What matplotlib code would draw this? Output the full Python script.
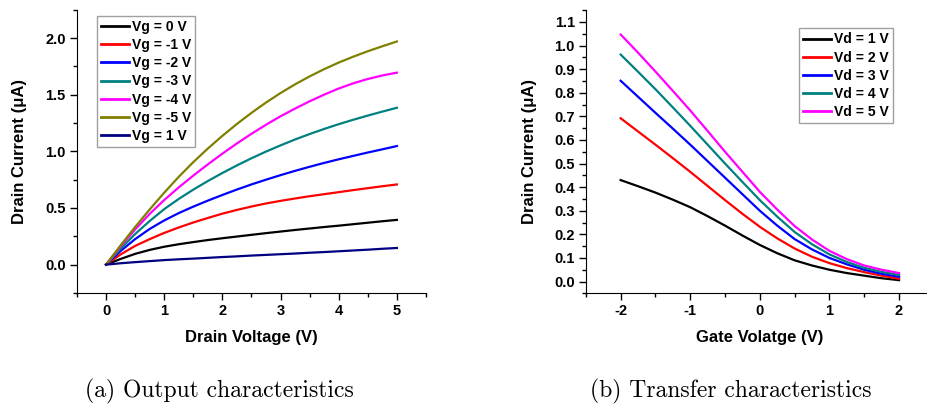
import matplotlib
matplotlib.use('Agg')
import matplotlib.pyplot as plt
from matplotlib.ticker import MultipleLocator

plt.rcParams['font.family'] = ['Liberation Sans', 'DejaVu Sans']
plt.rcParams['font.weight'] = 'bold'
plt.rcParams['axes.unicode_minus'] = False

# Output characteristics: drain current (uA) vs drain voltage for each gate voltage
vd = [0, 0.25, 0.5, 0.75, 1, 1.25, 1.5, 1.75, 2, 2.25, 2.5,
      2.75, 3, 3.25, 3.5, 3.75, 4, 4.25, 4.5, 4.75, 5]
id_vg0 = [0, 0.05, 0.095, 0.13, 0.158, 0.18, 0.199, 0.217, 0.233, 0.248, 0.263,
          0.278, 0.292, 0.306, 0.319, 0.332, 0.344, 0.357, 0.370, 0.383, 0.395]
id_vgm1 = [0, 0.09, 0.165, 0.225, 0.28, 0.328, 0.372, 0.412, 0.45, 0.483, 0.513,
           0.54, 0.563, 0.584, 0.604, 0.622, 0.64, 0.658, 0.675, 0.692, 0.708]
id_vgm2 = [0, 0.12, 0.225, 0.315, 0.39, 0.455, 0.512, 0.565, 0.615, 0.663, 0.708,
           0.75, 0.79, 0.828, 0.864, 0.898, 0.93, 0.96, 0.99, 1.018, 1.047]
id_vgm3 = [0, 0.14, 0.27, 0.385, 0.49, 0.58, 0.662, 0.738, 0.809, 0.876, 0.939,
           0.998, 1.053, 1.105, 1.153, 1.198, 1.240, 1.279, 1.316, 1.351, 1.385]
id_vgm4 = [0, 0.16, 0.31, 0.448, 0.57, 0.682, 0.786, 0.885, 0.98, 1.07, 1.155,
           1.235, 1.31, 1.378, 1.442, 1.501, 1.555, 1.601, 1.639, 1.670, 1.695]
id_vgm5 = [0, 0.170, 0.332, 0.487, 0.635, 0.775, 0.905, 1.025, 1.137, 1.242, 1.340,
           1.431, 1.515, 1.592, 1.662, 1.726, 1.784, 1.836, 1.884, 1.928, 1.970]
id_vg1 = [0, 0.012, 0.022, 0.031, 0.04, 0.047, 0.053, 0.06, 0.067, 0.073, 0.08,
          0.086, 0.092, 0.098, 0.105, 0.111, 0.118, 0.125, 0.132, 0.14, 0.147]

out_curves = [id_vg0, id_vgm1, id_vgm2, id_vgm3, id_vgm4, id_vgm5, id_vg1]
out_labels = ['Vg = 0 V', 'Vg = -1 V', 'Vg = -2 V', 'Vg = -3 V',
              'Vg = -4 V', 'Vg = -5 V', 'Vg = 1 V']
out_colors = ['black', '#FF0000', '#0000FF', '#008080', '#FF00FF', '#808000', '#000080']

# Transfer characteristics: drain current (uA) vs gate voltage for each drain voltage
vg = [-2, -1.75, -1.5, -1.25, -1, -0.75, -0.5, -0.25, 0,
      0.25, 0.5, 0.75, 1, 1.25, 1.5, 1.75, 2]
id_vd1 = [0.43, 0.404, 0.377, 0.347, 0.315, 0.277, 0.237, 0.195, 0.155,
          0.12, 0.09, 0.068, 0.05, 0.036, 0.025, 0.014, 0.006]
id_vd2 = [0.692, 0.636, 0.58, 0.523, 0.465, 0.405, 0.345, 0.287, 0.232,
          0.183, 0.14, 0.105, 0.078, 0.057, 0.04, 0.025, 0.012]
id_vd3 = [0.851, 0.783, 0.715, 0.648, 0.58, 0.51, 0.44, 0.37, 0.30,
          0.237, 0.18, 0.136, 0.10, 0.073, 0.05, 0.033, 0.02]
id_vd4 = [0.962, 0.889, 0.815, 0.738, 0.66, 0.58, 0.50, 0.422, 0.345,
          0.275, 0.21, 0.158, 0.115, 0.083, 0.058, 0.041, 0.028]
id_vd5 = [1.047, 0.97, 0.89, 0.808, 0.725, 0.638, 0.55, 0.465, 0.38,
          0.305, 0.235, 0.178, 0.13, 0.095, 0.068, 0.05, 0.036]

tr_curves = [id_vd1, id_vd2, id_vd3, id_vd4, id_vd5]
tr_labels = ['Vd = 1 V', 'Vd = 2 V', 'Vd = 3 V', 'Vd = 4 V', 'Vd = 5 V']
tr_colors = ['black', '#FF0000', '#0000FF', '#008080', '#FF00FF']

fig = plt.figure(figsize=(9.27, 4.08), dpi=100)
ax1 = fig.add_axes([0.083, 0.282, 0.3765, 0.694])
ax2 = fig.add_axes([0.632, 0.281, 0.3754, 0.694])


def style_axes(ax):
    ax.spines['top'].set_visible(False)
    ax.spines['right'].set_visible(False)
    ax.tick_params(which='major', direction='out', length=5, width=1, labelsize=10.5, pad=3)
    ax.tick_params(which='minor', direction='out', length=3, width=1)
    for lab in ax.get_xticklabels() + ax.get_yticklabels():
        lab.set_fontweight('bold')


def add_legend(ax, loc, anchor):
    leg = ax.legend(loc=loc, bbox_to_anchor=anchor, borderaxespad=0,
                    prop={'size': 10, 'weight': 'bold'}, handlelength=2.0,
                    handletextpad=0.2, labelspacing=0.3, borderpad=0.3,
                    fancybox=False, framealpha=1)
    leg.get_frame().set_edgecolor('#a0a0a0')
    leg.get_frame().set_linewidth(1)
    for line in leg.get_lines():
        line.set_linewidth(2)


for y, lab, c in zip(out_curves, out_labels, out_colors):
    ax1.plot(vd, y, color=c, lw=1.6, label=lab)
ax1.set_xlim(-0.5, 5.5)
ax1.set_ylim(-0.25, 2.25)
ax1.set_xticks([0, 1, 2, 3, 4, 5])
ax1.xaxis.set_minor_locator(MultipleLocator(0.5))
ax1.set_yticks([0, 0.5, 1.0, 1.5, 2.0])
ax1.yaxis.set_minor_locator(MultipleLocator(0.25))
style_axes(ax1)
ax1.set_xlabel('Drain Voltage (V)', fontsize=12, fontweight='bold')
ax1.set_ylabel('Drain Current (μA)', fontsize=12, fontweight='bold')
ax1.xaxis.set_label_coords(0.5, -0.13)
ax1.yaxis.set_label_coords(-0.143, 0.5)
add_legend(ax1, 'upper left', (0.057, 0.979))

for y, lab, c in zip(tr_curves, tr_labels, tr_colors):
    ax2.plot(vg, y, color=c, lw=1.6, label=lab)
ax2.set_xlim(-2.5, 2.5)
ax2.set_ylim(-0.05, 1.15)
ax2.set_xticks([-2, -1, 0, 1, 2])
ax2.xaxis.set_minor_locator(MultipleLocator(0.5))
ax2.set_yticks([0.0, 0.1, 0.2, 0.3, 0.4, 0.5, 0.6, 0.7, 0.8, 0.9, 1.0, 1.1])
ax2.yaxis.set_minor_locator(MultipleLocator(0.05))
style_axes(ax2)
ax2.set_xlabel('Gate Volatge (V)', fontsize=12, fontweight='bold')
ax2.set_ylabel('Drain Current (μA)', fontsize=12, fontweight='bold')
ax2.xaxis.set_label_coords(0.5, -0.13)
ax2.yaxis.set_label_coords(-0.141, 0.5)
add_legend(ax2, 'upper right', (0.882, 0.936))

# sub-figure captions
fig.text(219 / 927, 1 - 391 / 408, '(a) Output characteristics', family='cmr10',
         fontsize=17, ha='center', va='center', fontweight='normal')
fig.text(731 / 927, 1 - 391 / 408, '(b) Transfer characteristics', family='cmr10',
         fontsize=17, ha='center', va='center', fontweight='normal')

fig.savefig('out.png', dpi=100)
